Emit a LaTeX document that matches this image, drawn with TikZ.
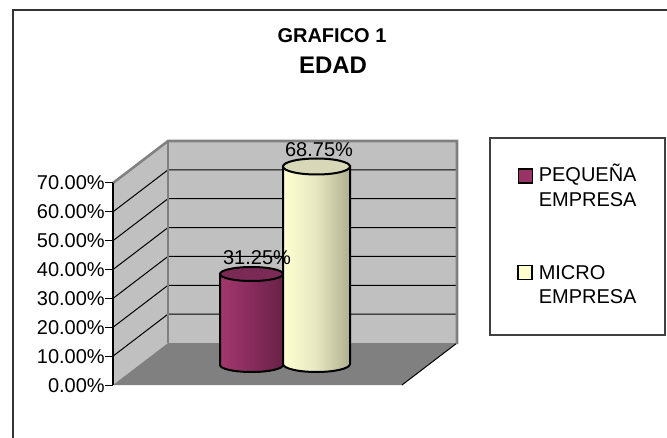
\documentclass[tikz,border=0pt]{standalone}
\usepackage{fontspec}
\setmainfont{Liberation Sans}
\definecolor{wall}{HTML}{C0C0C0}
\definecolor{floorc}{HTML}{808080}
\definecolor{edgec}{HTML}{808080}
\definecolor{purpL}{HTML}{A3386D}
\definecolor{purpM}{HTML}{872B5C}
\definecolor{purpR}{HTML}{682246}
\definecolor{purpT}{HTML}{7B2A56}
\definecolor{yelL}{HTML}{FFFFD2}
\definecolor{yelM}{HTML}{E6E6C0}
\definecolor{yelR}{HTML}{B0B090}
\definecolor{yelT}{HTML}{D8D8B8}
\definecolor{legpurp}{HTML}{993366}
\definecolor{legyel}{HTML}{FFFFCC}
\begin{document}
\begin{tikzpicture}[x=0.75pt,y=-0.75pt,
  txt/.style={font=\fontsize{15}{18}\selectfont, inner sep=0pt},
  axlab/.style={txt, anchor=base east},
  leglab/.style={txt, anchor=base west},
  datalab/.style={txt, anchor=base},
  wedge/.style={draw=edgec, line width=1.9pt},
  gridln/.style={draw=black, line width=0.75pt},
  cylout/.style={draw=black, line width=1.5pt},
  legsq/.style={draw=black, line width=1.2pt, minimum size=10.5pt, inner sep=0pt},
  ttl/.style={font=\bfseries\fontsize{#1}{#1}\selectfont, anchor=base, inner sep=0pt}]
\useasboundingbox (0,0) rectangle (667,438);
\fill[white] (0,0) rectangle (667,438);
% outer frame
\draw[black!80, line width=1.5pt] (12.5,445) -- (12.5,10.5) -- (675,10.5);
% title
\node[ttl=15] (t1) at (332,43) {GRAFICO 1};
\node[ttl=18] (t2) at (333,74) {EDAD};
% walls and floor
\fill[wall] (113,385) -- (113,183) -- (168,141) -- (168,343) -- cycle;
\fill[wall] (168,141) rectangle (457,343);
\fill[floorc] (113,385) -- (168,343) -- (457,343) -- (402,385) -- cycle;
\foreach \v in {1,...,6}
  \draw[gridln] (113,{385-28.86*\v}) -- (168,{343-28.86*\v}) -- (457,{343-28.86*\v});
\draw[black, line width=0.75pt] (457,343) -- (402,385);
\draw[wedge] (113,183) -- (168,141) -- (457,141) -- (457,344);
\draw[wedge] (168,141) -- (168,343);
% axis
\draw[black, line width=0.9pt] (113,183) -- (113,385);
\foreach \v/\t in {0/0.00,1/10.00,2/20.00,3/30.00,4/40.00,5/50.00,6/60.00,7/70.00}{
  \draw[black, line width=0.75pt] (105,{385-28.86*\v}) -- (113,{385-28.86*\v});
  \node[axlab] (ax\v) at (105,{392-28.86*\v}) {\t\%};
}
% cylinders
\draw[cylout, left color=purpL, right color=purpR, middle color=purpM]
  (220,274) -- (220,365) arc[start angle=180, end angle=0, x radius=31.5, y radius=7] -- (283,274) -- cycle;
\draw[cylout, fill=purpT] (251.5,274) ellipse [x radius=31.5, y radius=7];
\draw[cylout, left color=yelL, right color=yelR, middle color=yelM]
  (283,166.5) -- (283,364) arc[start angle=180, end angle=0, x radius=33.5, y radius=8] -- (350,166.5) -- cycle;
\draw[cylout, fill=yelT] (316.5,166.5) ellipse [x radius=33.5, y radius=8];
% data labels
\node[datalab] (d1) at (257,265) {31.25\%};
\node[datalab] (d2) at (319,157) {68.75\%};
% legend
\draw[black!75, line width=0.8pt] (490,138) rectangle (665,335);
\node[legsq, fill=legpurp] (sq1) at (525.5,176) {};
\node[legsq, fill=legyel] (sq2) at (525,272.5) {};
\node[leglab] (l1a) at (538.5,182) {PEQUEÑA};
\node[leglab] (l1b) at (538.5,206.5) {EMPRESA};
\node[leglab] (l2a) at (538.5,279) {MICRO};
\node[leglab] (l2b) at (538.5,303) {EMPRESA};
\end{tikzpicture}
\end{document}
